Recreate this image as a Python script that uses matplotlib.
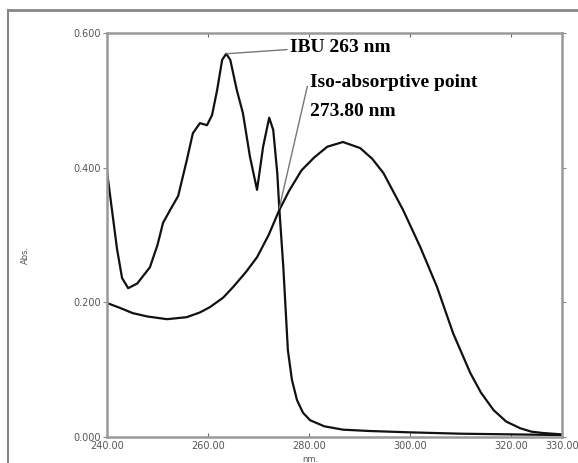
import matplotlib.pyplot as plt
from matplotlib.lines import Line2D

# wavelength (nm) / absorbance
ibu_nm = [240, 241, 242, 243, 244.2, 246, 248.5, 250, 251.1, 252.5, 254.1,
          255.8, 257.0, 258.4, 259.8, 260.8, 261.8, 262.8, 263.6, 264.4,
          265.7, 266.9, 268.3, 269.7, 270.9, 272.1, 272.9, 273.7, 274.1,
          274.9, 275.8, 276.6, 277.6, 278.8, 280.2, 283, 286.7, 292, 300,
          310, 320, 330]
ibu_abs = [0.395, 0.337, 0.279, 0.236, 0.221, 0.228, 0.252, 0.285, 0.318,
           0.337, 0.358, 0.411, 0.451, 0.466, 0.463, 0.478, 0.515, 0.560,
           0.569, 0.560, 0.515, 0.481, 0.416, 0.367, 0.431, 0.474, 0.456,
           0.392, 0.340, 0.252, 0.129, 0.085, 0.055, 0.036, 0.025, 0.016,
           0.011, 0.009, 0.007, 0.005, 0.004, 0.003]

broad_nm = [240, 242.5, 245.1, 248, 251.9, 255.8, 258.4, 260.4, 263, 265,
            267.5, 269.7, 272, 274.1, 276, 278.5, 281, 283.6, 286.7, 290.1,
            292.5, 294.7, 298.6, 302, 305.3, 308.5, 311.9, 314, 316.5, 319,
            321.8, 324, 326.3, 330]
broad_abs = [0.199, 0.192, 0.184, 0.179, 0.175, 0.178, 0.185, 0.193, 0.207,
             0.223, 0.245, 0.267, 0.300, 0.337, 0.365, 0.396, 0.415, 0.431,
             0.438, 0.429, 0.413, 0.392, 0.337, 0.282, 0.223, 0.154, 0.095,
             0.066, 0.040, 0.023, 0.013, 0.008, 0.006, 0.004]

x_ticks = [240, 260, 280, 300, 320, 330]
x_labels = ['240.00', '260.00', '280.00', '300.00', '320.00', '330.00']
y_ticks = [0.0, 0.2, 0.4, 0.6]
y_labels = ['0.000', '0.200', '0.400', '0.600']

ibu_peak = (263.6, 0.569)
iso_point = (274.1, 0.340)

fig = plt.figure(figsize=(5.78, 4.63), dpi=100)
ax = fig.add_axes([0.185, 0.056, 0.787, 0.873])

# outer grey frame of the original screenshot
fig.add_artist(Line2D([8 / 578, 8 / 578], [0, 1 - 10 / 463], color='#888888',
                      lw=1.5, transform=fig.transFigure))
fig.add_artist(Line2D([8 / 578, 1], [1 - 10 / 463, 1 - 10 / 463],
                      color='#888888', lw=2, transform=fig.transFigure))

ax.plot(ibu_nm, ibu_abs, color='#111111', lw=1.6)
ax.plot(broad_nm, broad_abs, color='#111111', lw=1.6)

ax.set_xlim(240, 330)
ax.set_ylim(0, 0.6)
ax.set_xticks(x_ticks)
ax.set_xticklabels(x_labels)
ax.set_yticks(y_ticks)
ax.set_yticklabels(y_labels)
ax.tick_params(axis='x', direction='in', length=3, color='#666666',
               labelsize=7, labelcolor='#555555', pad=3, top=True)
ax.tick_params(axis='y', direction='out', length=3, color='#888888',
               labelsize=7, labelcolor='#555555', pad=1, right=True)
for s in ax.spines.values():
    s.set_color('#999999')
    s.set_linewidth(1.8)

fig.text(25 / 578, 1 - 255 / 463, 'Abs.', rotation=90, fontsize=6,
         color='#555555', ha='center', va='center')
fig.text(310 / 578, 1 - 460 / 463, 'nm.', fontsize=6, color='#555555',
         ha='center', va='center')

serif = dict(family='Liberation Serif', weight='bold', fontsize=14,
             color='black')
ax.annotate('IBU 263 nm', xy=ibu_peak, xytext=(276.2, 0.578), va='center',
            arrowprops=dict(arrowstyle='-', color='#777777', lw=1,
                            shrinkA=0, shrinkB=0, relpos=(0, 0.4)), **serif)
ax.annotate('Iso-absorptive point', xy=iso_point, xytext=(280.2, 0.526),
            va='center',
            arrowprops=dict(arrowstyle='-', color='#777777', lw=1,
                            shrinkA=0, shrinkB=0, relpos=(0, 1.0)), **serif)
ax.text(280.2, 0.483, '273.80 nm', va='center', **serif)

fig.savefig('out.png', dpi=100)
